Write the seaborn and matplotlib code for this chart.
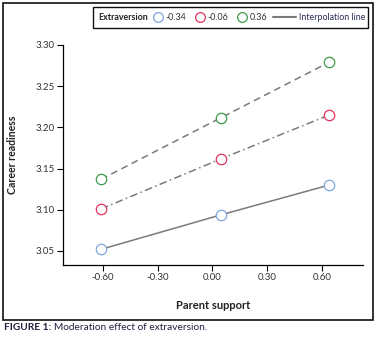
import matplotlib
matplotlib.use("Agg")
import matplotlib.pyplot as plt
from matplotlib.lines import Line2D
from matplotlib.patches import Rectangle
import seaborn as sns
import pandas as pd

# ---- data ----
parent_support = [-0.61, 0.05, 0.64]
low_extra = [3.052, 3.094, 3.130]    # -0.34
mid_extra = [3.101, 3.162, 3.215]    # -0.06
high_extra = [3.137, 3.212, 3.279]   # 0.36
group_labels = ["-0.34", "-0.06", "0.36"]
x_ticks = [-0.60, -0.30, 0.00, 0.30, 0.60]
y_ticks = [3.05, 3.10, 3.15, 3.20, 3.25, 3.30]

marker_colors = {"-0.34": "#7fa6dd", "-0.06": "#e2325c", "0.36": "#3f9a4b"}
line_styles = {"-0.34": "-", "-0.06": (0, (5, 2.2, 1, 2.2)), "0.36": (0, (4.5, 3))}
line_gray = "#7a7a7a"

sns.set_theme(style="white")
plt.rcParams["font.family"] = ["Lato", "DejaVu Sans"]

df = pd.DataFrame({
    "support": parent_support * 3,
    "readiness": low_extra + mid_extra + high_extra,
    "extra": [g for g in group_labels for _ in parent_support],
})

fig = plt.figure(figsize=(3.8, 3.4), dpi=100)
ax = fig.add_axes([63 / 380, 75 / 340, 300 / 380, 220 / 340])

for g in group_labels:
    sub = df[df["extra"] == g]
    sns.lineplot(data=sub, x="support", y="readiness", ax=ax, color=line_gray,
                 linewidth=1.1, linestyle=line_styles[g], marker="o", markersize=7.5,
                 markerfacecolor="white", markeredgecolor=marker_colors[g],
                 markeredgewidth=0.9, legend=False)

ax.set_xlim(-0.818, 0.826)
ax.set_ylim(3.033, 3.30)
ax.set_xticks(x_ticks)
ax.set_xticklabels([f"{v:.2f}" for v in x_ticks])
ax.set_yticks(y_ticks)
ax.set_yticklabels([f"{v:.2f}" for v in y_ticks])
for s in ["top", "right"]:
    ax.spines[s].set_visible(False)
for s in ["left", "bottom"]:
    ax.spines[s].set_color("black")
    ax.spines[s].set_linewidth(0.9)
ax.tick_params(axis="both", direction="out", length=4, width=0.8, color="black",
               labelsize=7, labelcolor="#333333", pad=2, bottom=True, left=True)
ax.set_xlabel("Parent support", fontsize=8, fontweight="bold", color="#222222")
ax.set_ylabel("Career readiness", fontsize=7.6, fontweight="bold", color="#222222")
ax.yaxis.set_label_coords(-0.15, 0.5)
ax.xaxis.set_label_coords(0.5, -0.159)

# ---- legend ----
fs = 6.4
handles = [Line2D([], [], linestyle="none", marker="o", markersize=7,
                  markerfacecolor="white", markeredgecolor=marker_colors[g],
                  markeredgewidth=0.9) for g in group_labels]
leg1 = fig.legend(handles, group_labels, loc="center left",
                  bbox_to_anchor=(153.3 / 380, 1 - 17.5 / 340), frameon=False, ncol=3,
                  fontsize=fs, handlelength=1.05, handletextpad=0.37, columnspacing=0.95,
                  borderpad=0, borderaxespad=0)
for t in leg1.get_texts():
    t.set_color("#333333")
leg2 = fig.legend([Line2D([], [], color=line_gray, linewidth=1.5)], ["Interpolation line"],
                  loc="center left", bbox_to_anchor=(273 / 380, 1 - 17.5 / 340),
                  frameon=False, fontsize=fs, handlelength=2.6, handletextpad=0.34,
                  borderpad=0, borderaxespad=0)
for t in leg2.get_texts():
    t.set_color("#2a2f55")
fig.text(98 / 380, 1 - 17.5 / 340, "Extraversion", fontsize=fs, fontweight="bold",
         color="#222222", va="center", ha="left")
fig.add_artist(Rectangle((93 / 380, 1 - 28 / 340), 275 / 380, 21 / 340,
                         transform=fig.transFigure, fill=False, edgecolor="#111111",
                         linewidth=1.0))

# outer frame
fig.add_artist(Rectangle((3 / 380, 20 / 340), 370 / 380, 317 / 340,
                         transform=fig.transFigure, fill=False, edgecolor="#111111",
                         linewidth=1.2))

# caption
cap_y = 1 - 328 / 340
t1 = fig.text(4 / 380, cap_y, "FIGURE 1:", fontsize=7.3, fontweight="bold",
              color="#1f2040", va="center", ha="left")
renderer = fig.canvas.get_renderer()
bb = t1.get_window_extent(renderer=renderer)
fig.text((bb.x1 + 3) / fig.bbox.width, cap_y, "Moderation effect of extraversion.",
         fontsize=7.3, color="#1f2040", va="center", ha="left")

fig.savefig("out.png", dpi=100)
